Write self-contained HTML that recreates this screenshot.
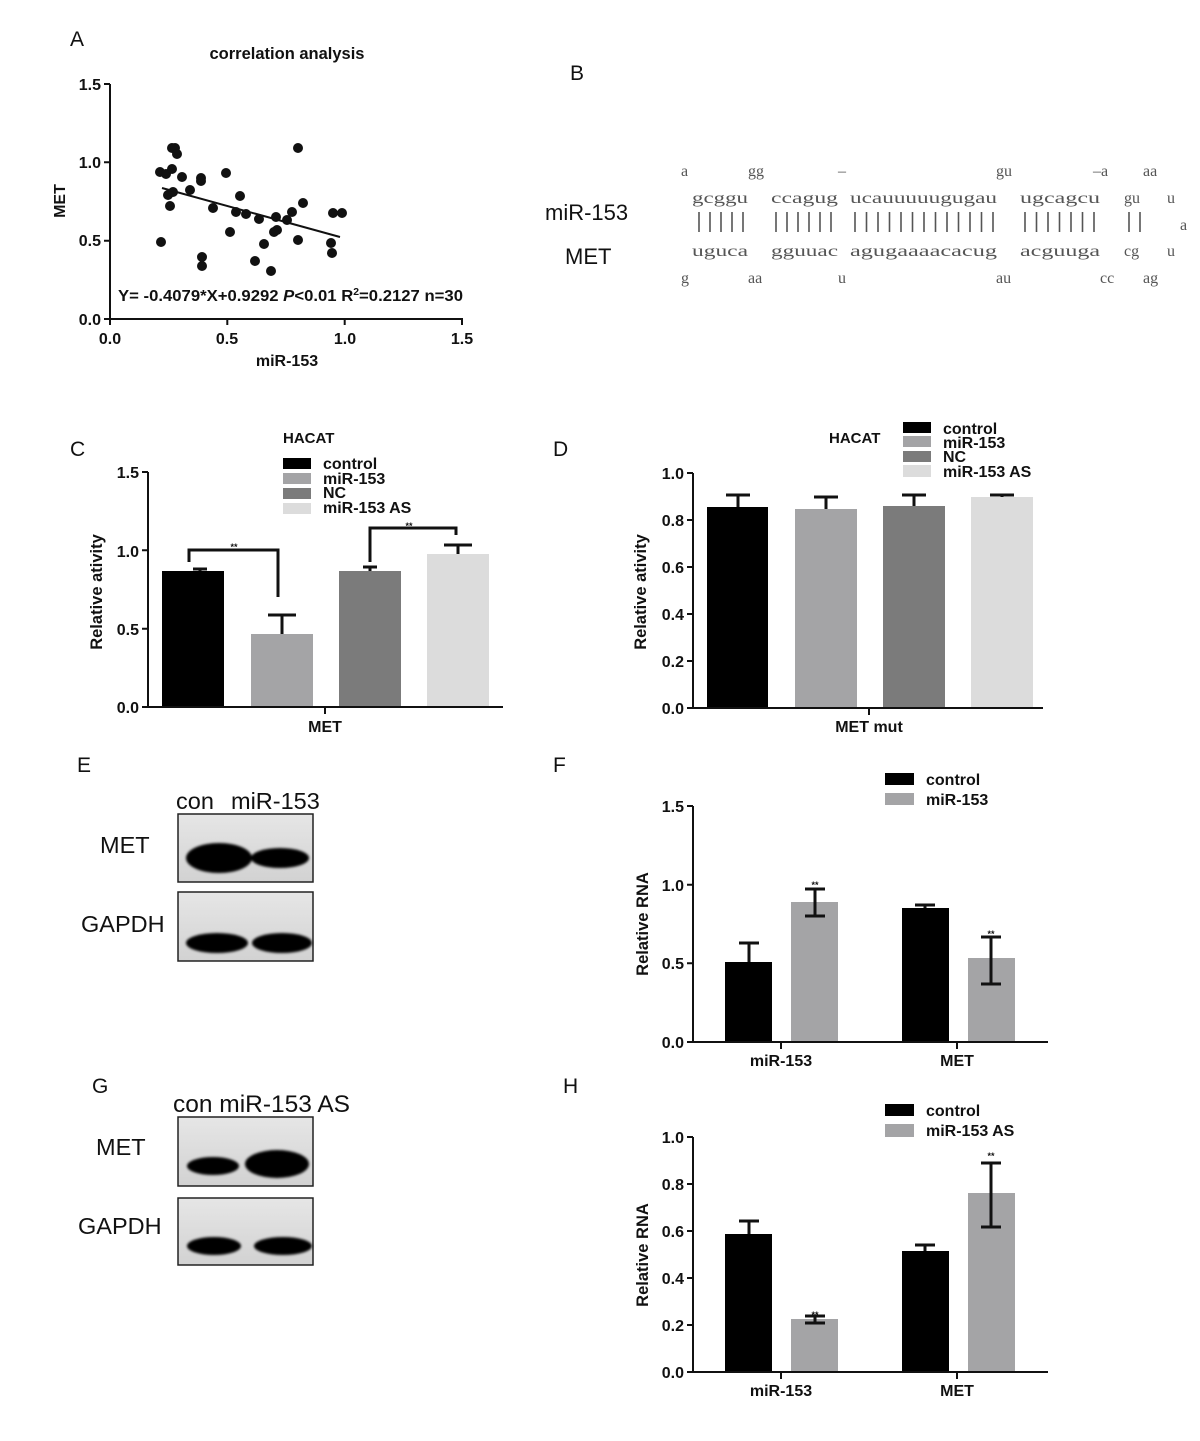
<!DOCTYPE html>
<html><head><meta charset="utf-8"><style>
html,body{margin:0;padding:0;background:#fff;}
svg{display:block;}
.b{font-family:"Liberation Sans",Arial,sans-serif;font-weight:bold;fill:#111;}
.r{font-family:"Liberation Sans",Arial,sans-serif;fill:#111;}
.m{font-family:"Liberation Serif","DejaVu Serif",serif;fill:#555;font-size:16px;}
</style></head><body>
<svg width="1200" height="1441" viewBox="0 0 1200 1441" xmlns="http://www.w3.org/2000/svg">
<defs>
<filter id="bl" x="-20%" y="-50%" width="140%" height="200%"><feGaussianBlur stdDeviation="1.4"/></filter>
<linearGradient id="bg" x1="0" y1="0" x2="0" y2="1"><stop offset="0" stop-color="#e6e6e6"/><stop offset="1" stop-color="#d2d2d2"/></linearGradient>
</defs>
<g class="r" font-size="21">
<text x="70" y="46">A</text><text x="570" y="80">B</text>
<text x="70" y="456">C</text><text x="553" y="456">D</text>
<text x="77" y="772">E</text><text x="553" y="772">F</text>
<text x="92" y="1093">G</text><text x="563" y="1093">H</text>
</g>

<!-- Panel A -->
<text class="b" x="287" y="59" font-size="16.5" text-anchor="middle">correlation analysis</text>
<g stroke="#111" stroke-width="2" fill="none">
<path d="M110 84 V319 H463"/>
<path d="M104 84H110M104 162.3H110M104 240.7H110M104 319H110"/>
<path d="M110 319V325M227.3 319V325M344.7 319V325M462 319V325"/>
</g>
<g class="b" font-size="16" text-anchor="end">
<text x="101" y="90">1.5</text><text x="101" y="168">1.0</text><text x="101" y="246">0.5</text><text x="101" y="325">0.0</text>
</g>
<g class="b" font-size="16" text-anchor="middle">
<text x="110" y="344">0.0</text><text x="227" y="344">0.5</text><text x="345" y="344">1.0</text><text x="462" y="344">1.5</text>
<text x="287" y="366">miR-153</text>
</g>
<text class="b" font-size="16" transform="translate(65 201) rotate(-90)" text-anchor="middle">MET</text>
<g fill="#111">
<circle cx="160" cy="172" r="5"/><circle cx="166" cy="174" r="5"/><circle cx="172" cy="148" r="5"/><circle cx="175" cy="148" r="5"/>
<circle cx="177" cy="154" r="5"/><circle cx="172" cy="169" r="5"/><circle cx="182" cy="177" r="5"/><circle cx="168" cy="195" r="5"/>
<circle cx="173" cy="192" r="5"/><circle cx="170" cy="206" r="5"/><circle cx="190" cy="190" r="5"/><circle cx="201" cy="178" r="5"/>
<circle cx="201" cy="181" r="5"/><circle cx="226" cy="173" r="5"/><circle cx="240" cy="196" r="5"/><circle cx="213" cy="208" r="5"/>
<circle cx="236" cy="212" r="5"/><circle cx="246" cy="214" r="5"/><circle cx="230" cy="232" r="5"/><circle cx="259" cy="219" r="5"/>
<circle cx="276" cy="217" r="5"/><circle cx="277" cy="230" r="5"/><circle cx="274" cy="232" r="5"/><circle cx="292" cy="212" r="5"/>
<circle cx="287" cy="220" r="5"/><circle cx="303" cy="203" r="5"/><circle cx="298" cy="148" r="5"/><circle cx="298" cy="240" r="5"/>
<circle cx="264" cy="244" r="5"/><circle cx="255" cy="261" r="5"/><circle cx="271" cy="271" r="5"/><circle cx="161" cy="242" r="5"/>
<circle cx="202" cy="257" r="5"/><circle cx="202" cy="266" r="5"/><circle cx="331" cy="243" r="5"/><circle cx="332" cy="253" r="5"/>
<circle cx="333" cy="213" r="5"/><circle cx="342" cy="213" r="5"/>
</g>
<line x1="162" y1="188" x2="340" y2="237" stroke="#111" stroke-width="2"/>
<text class="b" x="118" y="301" font-size="16" textLength="345" lengthAdjust="spacingAndGlyphs">Y= -0.4079*X+0.9292 <tspan font-style="italic">P</tspan>&lt;0.01 R<tspan font-size="10" dy="-6">2</tspan><tspan dy="6">=0.2127 n=30</tspan></text>

<!-- Panel B -->
<text class="r" x="545" y="220" font-size="22">miR-153</text>
<text class="r" x="565" y="264" font-size="22">MET</text>
<g class="m">
<text x="681" y="176">a</text><text x="748" y="176">gg</text><text x="838" y="176">–</text><text x="996" y="176">gu</text><text x="1093" y="176">–a</text><text x="1143" y="176">aa</text>
<text x="692" y="203" textLength="56" lengthAdjust="spacingAndGlyphs">gcggu</text>
<text x="771" y="203" textLength="67" lengthAdjust="spacingAndGlyphs">ccagug</text>
<text x="850" y="203" textLength="147" lengthAdjust="spacingAndGlyphs">ucauuuuugugau</text>
<text x="1020" y="203" textLength="80" lengthAdjust="spacingAndGlyphs">ugcagcu</text>
<text x="1124" y="203">gu</text><text x="1167" y="203">u</text>
<text x="692" y="256" textLength="56" lengthAdjust="spacingAndGlyphs">uguca</text>
<text x="771" y="256" textLength="67" lengthAdjust="spacingAndGlyphs">gguuac</text>
<text x="850" y="256" textLength="147" lengthAdjust="spacingAndGlyphs">agugaaaacacug</text>
<text x="1020" y="256" textLength="80" lengthAdjust="spacingAndGlyphs">acguuga</text>
<text x="1124" y="256">cg</text><text x="1167" y="256">u</text>
<text x="1180" y="230">a</text>
<text x="681" y="283">g</text><text x="748" y="283">aa</text><text x="838" y="283">u</text><text x="996" y="283">au</text><text x="1100" y="283">cc</text><text x="1143" y="283">ag</text>
</g>
<g stroke="#555" stroke-width="1.6">
<path d="M699 212V232M710 212V232M721 212V232M732 212V232M743 212V232"/>
<path d="M776 212V232M787 212V232M798 212V232M809 212V232M820 212V232M831 212V232"/>
<path d="M855 212V232M866.5 212V232M878 212V232M889.5 212V232M901 212V232M912.5 212V232M924 212V232M935.5 212V232M947 212V232M958.5 212V232M970 212V232M981.5 212V232M993 212V232"/>
<path d="M1025 212V232M1036.5 212V232M1048 212V232M1059.5 212V232M1071 212V232M1082.5 212V232M1094 212V232"/>
<path d="M1129 212V232M1140 212V232"/>
</g>

<!-- Panel C -->
<text class="b" x="283" y="443" font-size="15">HACAT</text>
<rect x="283" y="458" width="28" height="11" fill="#000"/>
<rect x="283" y="473" width="28" height="11" fill="#a4a4a6"/>
<rect x="283" y="488" width="28" height="11" fill="#7b7b7b"/>
<rect x="283" y="503" width="28" height="11" fill="#dcdcdc"/>
<g class="b" font-size="16"><text x="323" y="469">control</text><text x="323" y="484">miR-153</text><text x="323" y="498">NC</text><text x="323" y="513">miR-153 AS</text></g>
<rect x="162" y="571" width="62" height="136" fill="#000"/>
<rect x="251" y="634" width="62" height="73" fill="#a4a4a6"/>
<rect x="339" y="571" width="62" height="136" fill="#7b7b7b"/>
<rect x="427" y="554" width="62" height="153" fill="#dcdcdc"/>
<g stroke="#111" stroke-width="3" fill="none">
<path d="M193 569H207M200 569V571"/>
<path d="M282 634V615M268 615H296"/>
<path d="M370 571V567M363 567H377"/>
<path d="M458 554V545M444 545H472"/>
<path d="M189 562V550H278V597"/>
<path d="M370 562V528H456V535"/>
</g>
<g stroke="#111" stroke-width="2" fill="none">
<path d="M148 472V707H503"/>
<path d="M142 472H148M142 550.3H148M142 628.7H148M142 707H148M325 707V714"/>
</g>
<g class="b" font-size="16" text-anchor="end">
<text x="139" y="478">1.5</text><text x="139" y="557">1.0</text><text x="139" y="635">0.5</text><text x="139" y="713">0.0</text>
</g>
<text class="b" x="234" y="550" font-size="9" text-anchor="middle">**</text>
<text class="b" x="409" y="529" font-size="9" text-anchor="middle">**</text>
<text class="b" x="325" y="732" font-size="16" text-anchor="middle">MET</text>
<text class="b" font-size="16.5" transform="translate(102 592) rotate(-90)" text-anchor="middle">Relative ativity</text>

<!-- Panel D -->
<text class="b" x="829" y="443" font-size="15">HACAT</text>
<rect x="903" y="422" width="28" height="11" fill="#000"/>
<rect x="903" y="436" width="28" height="11" fill="#a4a4a6"/>
<rect x="903" y="451" width="28" height="11" fill="#7b7b7b"/>
<rect x="903" y="465" width="28" height="12" fill="#dcdcdc"/>
<g class="b" font-size="16"><text x="943" y="434">control</text><text x="943" y="448">miR-153</text><text x="943" y="462">NC</text><text x="943" y="477">miR-153 AS</text></g>
<rect x="707" y="507" width="61" height="201" fill="#000"/>
<rect x="795" y="509" width="62" height="199" fill="#a4a4a6"/>
<rect x="883" y="506" width="62" height="202" fill="#7b7b7b"/>
<rect x="971" y="497" width="62" height="211" fill="#dcdcdc"/>
<g stroke="#111" stroke-width="3" fill="none">
<path d="M738 507V495M726 495H750"/>
<path d="M826 509V497M814 497H838"/>
<path d="M914 506V495M902 495H926"/>
<path d="M1002 497V495M990 495H1014"/>
</g>
<g stroke="#111" stroke-width="2" fill="none">
<path d="M693 473V708H1043"/>
<path d="M687 473H693M687 520H693M687 567H693M687 614H693M687 661H693M687 708H693M869 708V715"/>
</g>
<g class="b" font-size="16" text-anchor="end">
<text x="684" y="479">1.0</text><text x="684" y="526">0.8</text><text x="684" y="573">0.6</text><text x="684" y="620">0.4</text><text x="684" y="667">0.2</text><text x="684" y="714">0.0</text>
</g>
<text class="b" x="869" y="732" font-size="16" text-anchor="middle">MET mut</text>
<text class="b" font-size="16.5" transform="translate(646 592) rotate(-90)" text-anchor="middle">Relative ativity</text>

<!-- Panel E -->
<text class="r" x="176" y="809" font-size="23.5">con</text>
<text class="r" x="231" y="809" font-size="23.5">miR-153</text>
<text class="r" x="100" y="853" font-size="23.5">MET</text>
<text class="r" x="81" y="932" font-size="23.5">GAPDH</text>
<rect x="178" y="814" width="135" height="68" fill="url(#bg)" stroke="#222" stroke-width="1.5"/>
<rect x="178" y="892" width="135" height="69" fill="url(#bg)" stroke="#222" stroke-width="1.5"/>
<g fill="#000" filter="url(#bl)">
<ellipse cx="219" cy="858" rx="33" ry="15"/><ellipse cx="280" cy="858" rx="29" ry="10"/>
<ellipse cx="217" cy="943" rx="31" ry="10"/><ellipse cx="282" cy="943" rx="30" ry="10"/>
</g>

<!-- Panel F -->
<rect x="885" y="773" width="29" height="12" fill="#000"/>
<rect x="885" y="793" width="29" height="12" fill="#a4a4a6"/>
<g class="b" font-size="16"><text x="926" y="785">control</text><text x="926" y="805">miR-153</text></g>
<rect x="725" y="962" width="47" height="80" fill="#000"/>
<rect x="791" y="902" width="47" height="140" fill="#a4a4a6"/>
<rect x="902" y="908" width="47" height="134" fill="#000"/>
<rect x="968" y="958" width="47" height="84" fill="#a4a4a6"/>
<g stroke="#111" stroke-width="3" fill="none">
<path d="M749 962V943M739 943H759"/>
<path d="M815 916V889M805 916H825M805 889H825"/>
<path d="M925 908V905M915 905H935"/>
<path d="M991 984V937M981 984H1001M981 937H1001"/>
</g>
<g stroke="#111" stroke-width="2" fill="none">
<path d="M693 806V1042H1048"/>
<path d="M687 806H693M687 884.7H693M687 963.3H693M687 1042H693M781 1042V1049M957 1042V1049"/>
</g>
<g class="b" font-size="16" text-anchor="end">
<text x="684" y="812">1.5</text><text x="684" y="891">1.0</text><text x="684" y="969">0.5</text><text x="684" y="1048">0.0</text>
</g>
<text class="b" x="815" y="888" font-size="9" text-anchor="middle">**</text>
<text class="b" x="991" y="937" font-size="9" text-anchor="middle">**</text>
<g class="b" font-size="16" text-anchor="middle"><text x="781" y="1066">miR-153</text><text x="957" y="1066">MET</text></g>
<text class="b" font-size="16.5" transform="translate(648 924) rotate(-90)" text-anchor="middle">Relative RNA</text>

<!-- Panel G -->
<text class="r" x="173" y="1112" font-size="24" textLength="177" lengthAdjust="spacingAndGlyphs">con miR-153 AS</text>
<text class="r" x="96" y="1155" font-size="23.5">MET</text>
<text class="r" x="78" y="1234" font-size="23.5">GAPDH</text>
<rect x="178" y="1117" width="135" height="69" fill="url(#bg)" stroke="#222" stroke-width="1.5"/>
<rect x="178" y="1198" width="135" height="67" fill="url(#bg)" stroke="#222" stroke-width="1.5"/>
<g fill="#000" filter="url(#bl)">
<ellipse cx="213" cy="1166" rx="26" ry="9"/><ellipse cx="277" cy="1164" rx="32" ry="14"/>
<ellipse cx="214" cy="1246" rx="27" ry="9"/><ellipse cx="283" cy="1246" rx="29" ry="9"/>
</g>

<!-- Panel H -->
<rect x="885" y="1104" width="29" height="12" fill="#000"/>
<rect x="885" y="1124" width="29" height="13" fill="#a4a4a6"/>
<g class="b" font-size="16"><text x="926" y="1116">control</text><text x="926" y="1136">miR-153 AS</text></g>
<rect x="725" y="1234" width="47" height="138" fill="#000"/>
<rect x="791" y="1319" width="47" height="53" fill="#a4a4a6"/>
<rect x="902" y="1251" width="47" height="121" fill="#000"/>
<rect x="968" y="1193" width="47" height="179" fill="#a4a4a6"/>
<g stroke="#111" stroke-width="3" fill="none">
<path d="M749 1234V1221M739 1221H759"/>
<path d="M815 1323V1316M805 1323H825M805 1316H825"/>
<path d="M925 1251V1245M915 1245H935"/>
<path d="M991 1227V1163M981 1227H1001M981 1163H1001"/>
</g>
<g stroke="#111" stroke-width="2" fill="none">
<path d="M693 1137V1372H1048"/>
<path d="M687 1137H693M687 1184H693M687 1231H693M687 1278H693M687 1325H693M687 1372H693M781 1372V1379M957 1372V1379"/>
</g>
<g class="b" font-size="16" text-anchor="end">
<text x="684" y="1143">1.0</text><text x="684" y="1190">0.8</text><text x="684" y="1237">0.6</text><text x="684" y="1284">0.4</text><text x="684" y="1331">0.2</text><text x="684" y="1378">0.0</text>
</g>
<text class="b" x="815" y="1318" font-size="9" text-anchor="middle">**</text>
<text class="b" x="991" y="1159" font-size="9" text-anchor="middle">**</text>
<g class="b" font-size="16" text-anchor="middle"><text x="781" y="1396">miR-153</text><text x="957" y="1396">MET</text></g>
<text class="b" font-size="16.5" transform="translate(648 1255) rotate(-90)" text-anchor="middle">Relative RNA</text>
</svg>
</body></html>
